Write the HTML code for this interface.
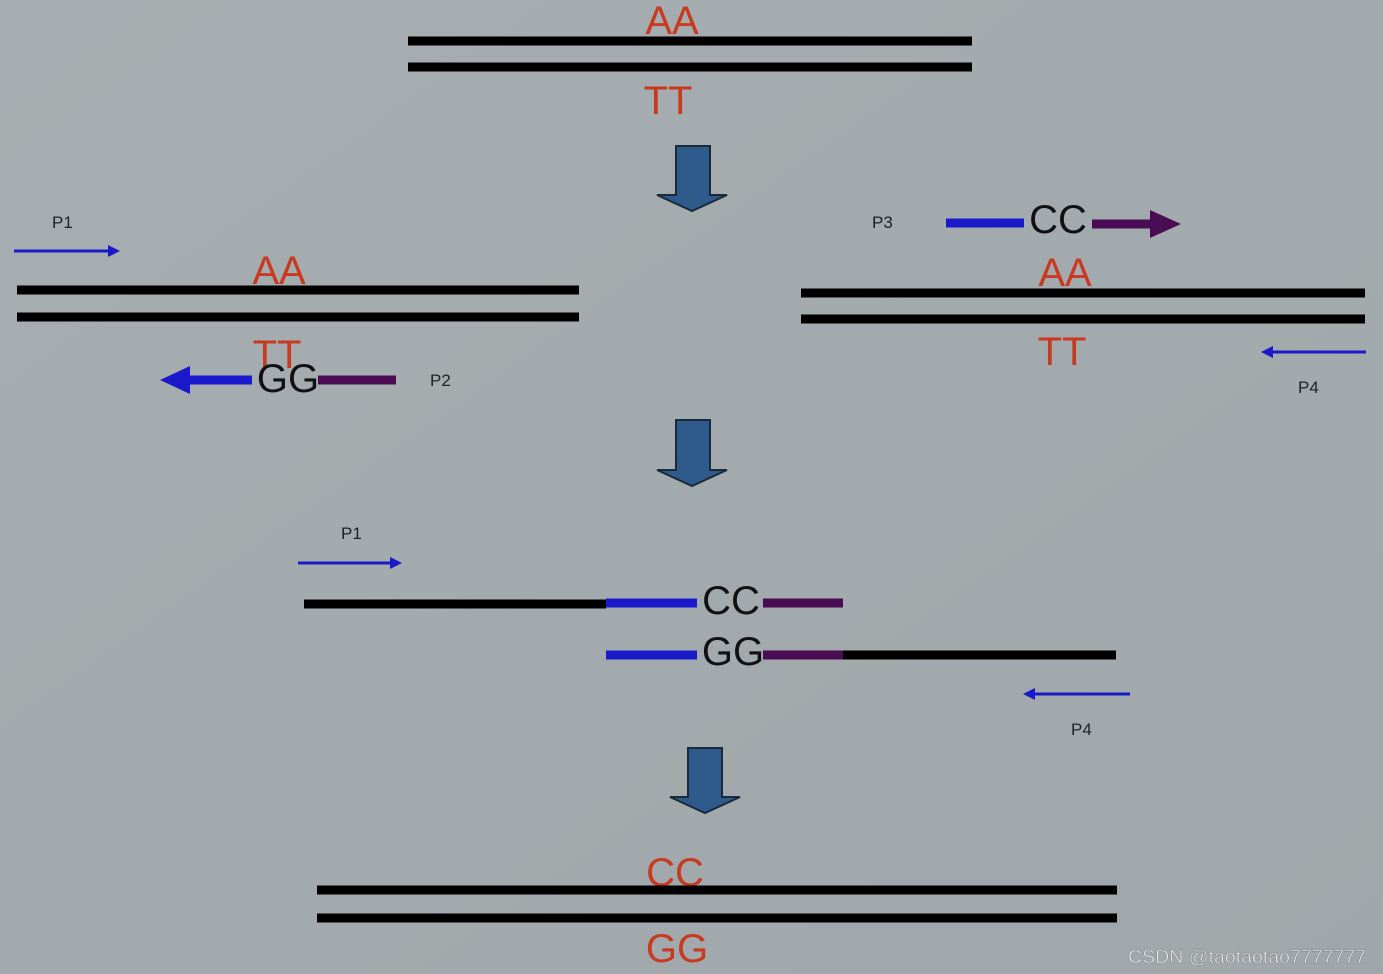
<!DOCTYPE html>
<html><head><meta charset="utf-8"><style>
html,body{margin:0;padding:0;background:#a3abae;}
svg{display:block}
text{font-family:"Liberation Sans",sans-serif}
</style></head><body>
<svg width="1383" height="974" viewBox="0 0 1383 974" xmlns="http://www.w3.org/2000/svg">
<defs>
<linearGradient id="bg" x1="0" y1="0" x2="1" y2="1">
<stop offset="0" stop-color="#a6aeb1"/><stop offset="1" stop-color="#9fa7aa"/>
</linearGradient>
</defs>
<rect width="1383" height="974" fill="url(#bg)"/>
<g fill="#c9391f" font-size="40" text-anchor="middle">
<text x="672" y="34">AA</text>
<text x="668" y="114">TT</text>
<text x="279" y="284">AA</text>
<text x="277" y="368">TT</text>
<text x="1065" y="286">AA</text>
<text x="1062" y="365">TT</text>
<text x="675" y="886">CC</text>
<text x="677" y="962">GG</text>
</g>
<g stroke="#000" stroke-width="9">
<line x1="408" y1="41" x2="972" y2="41"/><line x1="408" y1="67" x2="972" y2="67"/>
<line x1="17" y1="290" x2="579" y2="290"/><line x1="17" y1="317" x2="579" y2="317"/>
<line x1="801" y1="293" x2="1365" y2="293"/><line x1="801" y1="319" x2="1365" y2="319"/>
<line x1="317" y1="890" x2="1117" y2="890"/><line x1="317" y1="918" x2="1117" y2="918"/>
<line x1="304" y1="604" x2="606" y2="604"/>
<line x1="843" y1="655" x2="1116" y2="655"/>
</g>
<g fill="#2f5b8c" stroke="#1a2a3a" stroke-width="2">
<polygon points="676,146 710,146 710,195 727,195 692,211 657,195 676,195"/>
<polygon points="676,420 710,420 710,470 727,470 692,486 657,470 676,470"/>
<polygon points="688,748 722,748 722,797 740,797 705,813 670,797 688,797"/>
</g>
<g stroke="#1a1ac8" stroke-width="3" fill="#1a1ac8">
<line x1="14" y1="251" x2="110" y2="251"/><polygon points="120,251 108,245 108,257" stroke="none"/>
<line x1="298" y1="563" x2="392" y2="563"/><polygon points="402,563 390,557 390,569" stroke="none"/>
<line x1="1272" y1="352" x2="1366" y2="352"/><polygon points="1261,352 1273,346 1273,358" stroke="none"/>
<line x1="1034" y1="694" x2="1130" y2="694"/><polygon points="1023,694 1035,688 1035,700" stroke="none"/>
</g>
<g stroke-width="9">
<line x1="188" y1="380" x2="252" y2="380" stroke="#1a1acc"/>
<polygon points="160,380 190,366 190,394" fill="#1a1acc"/>
<line x1="318" y1="380" x2="396" y2="380" stroke="#4a0c52"/>
<line x1="946" y1="223" x2="1024" y2="223" stroke="#1a1acc"/>
<line x1="1092" y1="224" x2="1152" y2="224" stroke="#4a0c52"/>
<polygon points="1181,224 1150,210 1150,238" fill="#4a0c52"/>
<line x1="606" y1="603" x2="697" y2="603" stroke="#1a1acc"/>
<line x1="763" y1="603" x2="843" y2="603" stroke="#4a0c52"/>
<line x1="606" y1="655" x2="697" y2="655" stroke="#1a1acc"/>
<line x1="763" y1="655" x2="843" y2="655" stroke="#4a0c52"/>
</g>
<g fill="#111" font-size="40" text-anchor="middle">
<text x="288" y="392">GG</text>
<text x="1058" y="233">CC</text>
<text x="731" y="614">CC</text>
<text x="733" y="665">GG</text>
</g>
<g fill="#222" font-size="17">
<text x="52" y="228">P1</text>
<text x="430" y="386">P2</text>
<text x="872" y="228">P3</text>
<text x="1298" y="393">P4</text>
<text x="341" y="539">P1</text>
<text x="1071" y="735">P4</text>
</g>
<text x="1128" y="963" font-size="18" textLength="238" lengthAdjust="spacingAndGlyphs" fill="#e8eaeb" stroke="#777" stroke-width="0.4">CSDN @taotaotao7777777</text>
</svg>
</body></html>
